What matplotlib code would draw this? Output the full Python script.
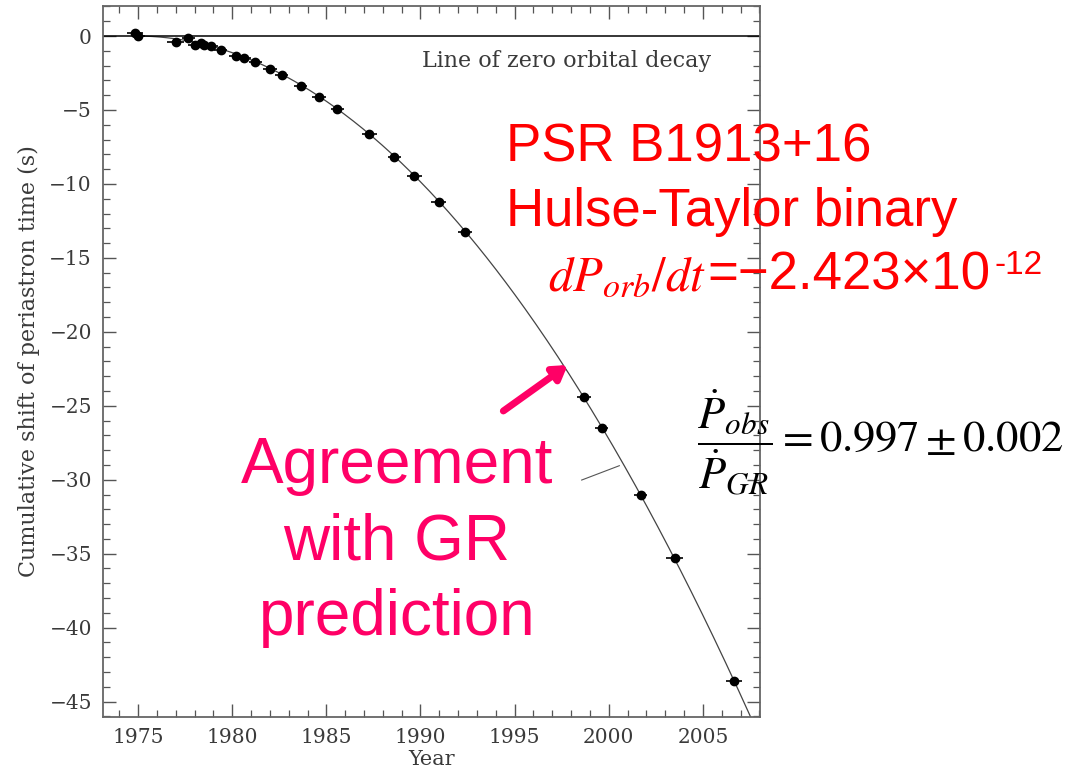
import numpy as np
import matplotlib.pyplot as plt

plt.rcParams['mathtext.fontset'] = 'stix'

# Timing data: year of observation and cumulative periastron shift (s)
years = [1974.84, 1975.02, 1977.00, 1977.67, 1978.03, 1978.35, 1978.50, 1978.88,
         1979.40, 1980.19, 1980.65, 1981.23, 1982.01, 1982.63, 1983.64, 1984.61,
         1985.58, 1987.27, 1988.61, 1989.67, 1990.98, 1992.36, 1998.68, 1999.62,
         2001.70, 2003.50, 2006.65]
shift = [0.18, 0.00, -0.38, -0.16, -0.61, -0.50, -0.61, -0.65,
         -0.95, -1.35, -1.51, -1.78, -2.23, -2.64, -3.36, -4.10,
         -4.96, -6.63, -8.16, -9.44, -11.22, -13.23, -24.43, -26.48,
         -31.06, -35.27, -43.61]
year_err = [0.45, 0.35, 0.45, 0.35, 0.35, 0.35, 0.35, 0.35,
            0.35, 0.35, 0.35, 0.35, 0.35, 0.35, 0.35, 0.35,
            0.35, 0.40, 0.35, 0.40, 0.40, 0.35, 0.35, 0.35,
            0.35, 0.45, 0.45]
shift_err = [0.25, 0.15] + [0.0] * 25

# GR prediction: quadratic shift from the orbital period decay
p_orb = 27906.98          # orbital period (s)
pdot_gr = -2.423e-12      # dP/dt
epoch = 1974.9
sec_per_year = 3.15576e7

# small pointer stroke and the red arrow (data coords)
pointer_x = [1998.56, 2000.56]
pointer_y = [-30.02, -29.05]
arrow_tail = (1994.40, -25.35)
arrow_head = (1997.82, -22.24)

W, H = 1073, 771
fig = plt.figure(figsize=(W / 100, H / 100), dpi=100)
ax = fig.add_axes([103 / W, 1 - 717 / H, (760 - 103) / W, (717 - 6) / H])

def px(x, y):
    return x / W, 1 - y / H

t = np.linspace(epoch, 2008.5, 400)
model = 0.5 * pdot_gr / p_orb * ((t - epoch) * sec_per_year) ** 2
ax.plot(t, model, color='#444444', lw=0.9)
ax.axhline(0, color='black', lw=1.1)

ax.errorbar(years, shift, xerr=year_err, yerr=shift_err, fmt='o', color='black',
            ms=6, elinewidth=1.2, capsize=0)

ax.plot(pointer_x, pointer_y, color='#555555', lw=0.8)

ax.set_xlim(1973.14, 2008.03)
ax.set_ylim(-46.04, 2.03)
ax.set_xticks(np.arange(1975, 2006, 5))
ax.set_xticks(np.arange(1974, 2009, 1), minor=True)
ax.set_yticks(np.arange(-45, 1, 5))
ax.set_yticks(np.arange(-46, 3, 1), minor=True)
ax.set_yticklabels(['\u2212%d' % -v if v < 0 else '0' for v in range(-45, 1, 5)])

serif = 'DejaVu Serif'
grey = '#3a3a3a'
ax.tick_params(which='both', direction='in', top=True, right=True,
               color='#555555', labelcolor=grey)
ax.tick_params(which='major', length=9.5, width=1.0, labelsize=14.5, pad=8)
ax.tick_params(which='minor', length=5, width=0.9)
for lab in ax.get_xticklabels() + ax.get_yticklabels():
    lab.set_family(serif)
for sp in ax.spines.values():
    sp.set_color('#666666')
    sp.set_linewidth(1.3)

ax.set_xlabel('Year', family=serif, fontsize=15, color=grey, labelpad=2)
ax.set_ylabel('Cumulative shift of periastron time (s)', family=serif,
              fontsize=16, color=grey, labelpad=7)

ax.text(1990.1, -2.07, 'Line of zero orbital decay', family=serif,
        fontsize=16, color=grey, va='baseline')

ax.annotate('', xy=arrow_head, xytext=arrow_tail,
            arrowprops=dict(arrowstyle='-|>,head_length=0.8,head_width=0.5',
                            color='#FF0066', lw=5, shrinkA=0, shrinkB=0))

red = '#FF0000'
sans = 'Liberation Sans'
fig.text(*px(506, 162), 'PSR B1913+16', family=sans, fontsize=38, color=red,
         va='baseline')
fig.text(*px(506, 226), 'Hulse-Taylor binary', family=sans, fontsize=38,
         color=red, va='baseline')
fig.text(*px(548, 290), r'$dP_{orb}/dt$', fontsize=35, color=red,
         va='baseline')
fig.text(*px(707, 290), '=\u22122.423\u00d710', family=sans, fontsize=38,
         color=red, va='baseline')
fig.text(*px(995, 274), '-12', family=sans, fontsize=24, color=red,
         va='baseline')

pink = '#FF0066'
for text, base in [('Agreement', 483), ('with GR', 560), ('prediction', 635)]:
    fig.text(*px(397, base), text, family=sans, fontsize=46, color=pink,
             ha='center', va='baseline')

fig.text(*px(697, 442), r'$\dfrac{\dot{P}_{obs}}{\dot{P}_{GR}} = 0.997 \pm 0.002$',
         fontsize=32, color='black', va='center')

fig.savefig('out.png', dpi=100)
